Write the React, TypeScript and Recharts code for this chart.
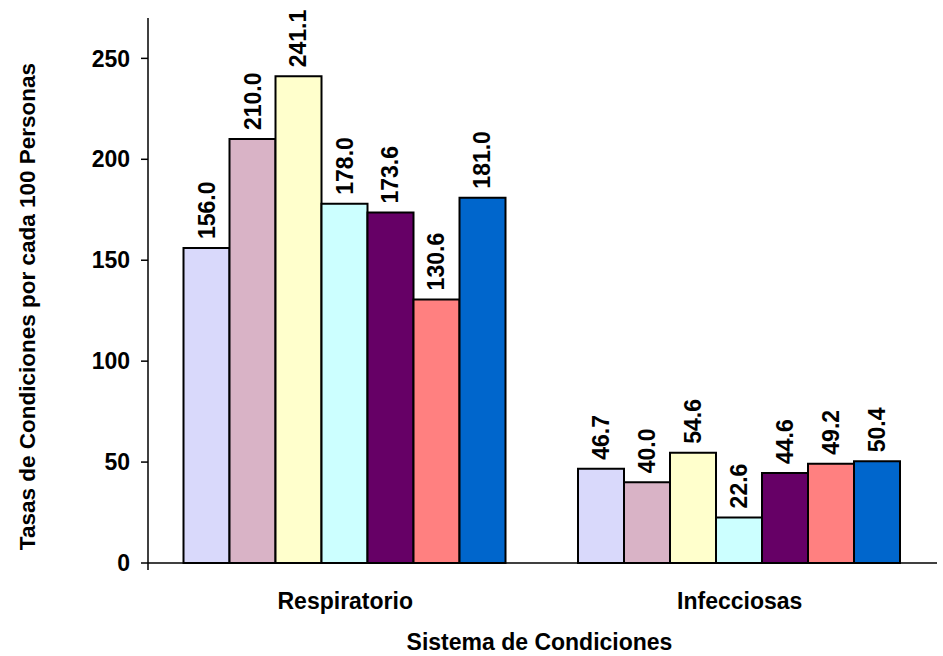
import React from "react";
import { BarChart, Bar, XAxis, YAxis, LabelList } from "recharts";

const categories = ["Respiratorio", "Infecciosas"];
const serie1 = [156.0, 46.7];
const serie2 = [210.0, 40.0];
const serie3 = [241.1, 54.6];
const serie4 = [178.0, 22.6];
const serie5 = [173.6, 44.6];
const serie6 = [130.6, 49.2];
const serie7 = [181.0, 50.4];
const yTicks = [0, 50, 100, 150, 200, 250];
const seriesNames = ["s1", "s2", "s3", "s4", "s5", "s6", "s7"];
const seriesValues = [serie1, serie2, serie3, serie4, serie5, serie6, serie7];
const colors = ["#D9D9FB", "#D9B3C6", "#FFFFCC", "#CCFFFF", "#660066", "#FF8080", "#0066CC"];

const data = categories.map((c, i) => {
  const row: Record<string, any> = { category: c };
  seriesNames.forEach((n, j) => {
    row[n] = seriesValues[j][i];
  });
  return row;
});

const FONT = "'Liberation Sans', Arial, sans-serif";
const FS = 23;

const ValueLabel = (props: any) => {
  const { x, y, width, value } = props;
  const cx = x + width / 2 + 8;
  const cy = y - 9;
  return (
    <text
      x={cx}
      y={cy}
      transform={`rotate(-90, ${cx}, ${cy})`}
      textAnchor="start"
      fontFamily={FONT}
      fontWeight="bold"
      fontSize={FS}
      fill="#000"
    >
      {Number(value).toFixed(1)}
    </text>
  );
};

const YTitle = (props: any) => {
  const vb = props.viewBox || { x: 0, y: 18, width: 148, height: 545 };
  const x = vb.x + 27;
  const y = vb.y + vb.height / 2 + 16;
  return (
    <text
      x={x}
      y={y}
      transform={`rotate(-90, ${x}, ${y})`}
      textAnchor="middle"
      dominantBaseline="central"
      fontFamily={FONT}
      fontWeight="bold"
      fontSize={22.5}
      fill="#000"
    >
      Tasas de Condiciones por cada 100 Personas
    </text>
  );
};

const XTitle = (props: any) => {
  const vb = props.viewBox || { x: 148, y: 564, width: 789, height: 92 };
  return (
    <text
      x={vb.x + vb.width / 2 - 3}
      y={650}
      textAnchor="middle"
      fontFamily={FONT}
      fontWeight="bold"
      fontSize={FS}
      fill="#000"
    >
      Sistema de Condiciones
    </text>
  );
};

export default function App() {
  return (
    <div style={{ position: "absolute", left: 0, top: 0, width: 943, height: 656, background: "#fff" }}>
      <BarChart
        width={943}
        height={656}
        data={data}
        margin={{ top: 18, right: 6, bottom: 0, left: 0 }}
        barCategoryGap="9%"
        barGap={0}
      >
        <XAxis
          xAxisId="a"
          type="number"
          domain={[0, 2]}
          ticks={[0, 1, 2]}
          allowDataOverflow
          height={1}
          tick={() => null}
          tickSize={7}
          axisLine={{ stroke: "#000", strokeWidth: 1.5 }}
          tickLine={{ stroke: "#000", strokeWidth: 1.5 }}
        />
        <XAxis
          xAxisId="b"
          dataKey="category"
          height={92}
          axisLine={false}
          tickLine={false}
          tickSize={0}
          tickMargin={29}
          tick={{ fill: "#000", fontFamily: FONT, fontWeight: "bold", fontSize: FS }}
          label={<XTitle />}
        />
        <YAxis
          domain={[0, 270]}
          ticks={yTicks}
          width={148}
          tickSize={7}
          tickMargin={11}
          axisLine={{ stroke: "#000", strokeWidth: 1.5 }}
          tickLine={{ stroke: "#000", strokeWidth: 1.5 }}
          tick={{ fill: "#000", fontFamily: FONT, fontWeight: "bold", fontSize: FS }}
          label={<YTitle />}
        />
        {seriesNames.map((n, j) => (
          <Bar
            key={n}
            xAxisId="b"
            dataKey={n}
            fill={colors[j]}
            stroke="#000"
            strokeWidth={2}
            isAnimationActive={false}
          >
            <LabelList dataKey={n} content={<ValueLabel />} />
          </Bar>
        ))}
      </BarChart>
    </div>
  );
}
